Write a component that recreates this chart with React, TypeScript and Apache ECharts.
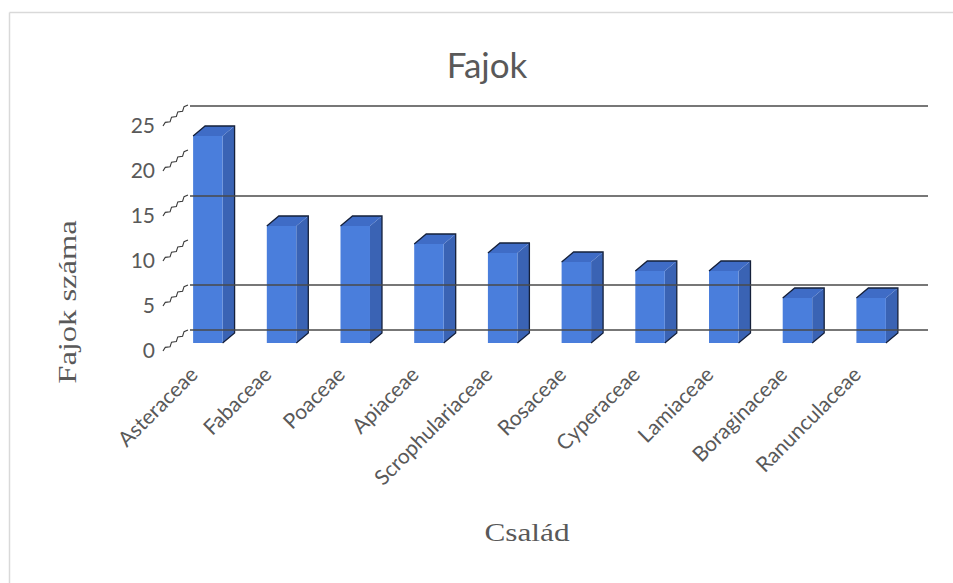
import React, { useEffect, useRef } from "react";
import * as echarts from "echarts";

const categories = [
  "Asteraceae",
  "Fabaceae",
  "Poaceae",
  "Apiaceae",
  "Scrophulariaceae",
  "Rosaceae",
  "Cyperaceae",
  "Lamiaceae",
  "Boraginaceae",
  "Ranunculaceae",
];
const speciesCounts = [23, 13, 13, 11, 10, 9, 8, 8, 5, 5];
const yTicks = [0, 5, 10, 15, 20, 25];
const visibleGridLines = [0, 5, 15, 25];

const TXT = "#595959";
const FRONT = "#4a7edc";
const SIDE = "#3a63b4";
const TOP = "#3f6cc6";
const EDGE = "#15203a";

export default function App() {
  const ref = useRef<HTMLDivElement>(null);
  useEffect(() => {
    if (!ref.current) return;
    const chart = echarts.init(ref.current, undefined, { renderer: "svg" });
    const DX = 12;
    const DY = -10;
    chart.setOption({
      animation: false,
      backgroundColor: "#ffffff",
      title: {
        text: "Fajok",
        left: 482,
        textAlign: "center",
        top: 41,
        textStyle: { fontFamily: "Lato", fontSize: 35, fontWeight: "normal", color: TXT },
      },
      graphic: [
        {
          type: "line",
          shape: { x1: 9.5, y1: 12.5, x2: 953, y2: 12.5 },
          style: { stroke: "#d9d9d9", lineWidth: 1.5 },
          silent: true,
        },
        {
          type: "line",
          shape: { x1: 9.5, y1: 12.5, x2: 9.5, y2: 583 },
          style: { stroke: "#d9d9d9", lineWidth: 1.5 },
          silent: true,
        },
        {
          type: "text",
          x: 67,
          y: 302,
          rotation: Math.PI / 2,
          scaleX: 1.3,
          style: {
            text: "Fajok száma",
            fontFamily: "Liberation Serif",
            fontSize: 25,
            fill: TXT,
            align: "center",
            verticalAlign: "middle",
          },
        },
        {
          type: "text",
          x: 527,
          y: 533,
          scaleX: 1.25,
          style: {
            text: "Család",
            fontFamily: "Liberation Serif",
            fontSize: 25,
            fill: TXT,
            align: "center",
            verticalAlign: "middle",
          },
        },
      ],
      grid: [
        // main (front plane of bars)
        { left: 171, right: 45, top: 118, bottom: 240 },
        // back wall gridlines
        { left: 190, right: 25, top: 106, bottom: 253 },
        // y labels
        { left: 163, width: 25, top: 124, bottom: 234 },
      ],
      xAxis: [
        {
          gridIndex: 0,
          type: "category",
          data: categories,
          axisLine: { show: false },
          axisTick: { show: false },
          axisLabel: {
            rotate: 45,
            margin: 12,
            padding: [0, 21, 0, 0],
            fontFamily: "Lato",
            fontSize: 21,
            color: TXT,
            interval: 0,
          },
        },
        { gridIndex: 1, type: "value", min: 0, max: 1, show: false },
        { gridIndex: 2, type: "value", min: 0, max: 1, show: false },
      ],
      yAxis: [
        { gridIndex: 0, type: "value", min: 0, max: 25, interval: 5, show: false },
        { gridIndex: 1, type: "value", min: 0, max: 25, interval: 5, show: false },
        {
          gridIndex: 2,
          type: "value",
          min: 0,
          max: 25,
          interval: 5,
          axisLine: { show: false },
          axisTick: { show: false },
          splitLine: { show: false },
          axisLabel: { margin: 8, fontFamily: "Lato", fontSize: 21, color: TXT },
        },
      ],
      series: [
        {
          type: "line",
          xAxisIndex: 1,
          yAxisIndex: 1,
          data: [],
          z: 1,
          markLine: {
            silent: true,
            symbol: "none",
            label: { show: false },
            lineStyle: { color: "#4a4a4a", width: 1.5, type: "solid" },
            data: visibleGridLines.map((v) => ({ yAxis: v })),
          },
        },
        {
          type: "custom",
          xAxisIndex: 2,
          yAxisIndex: 2,
          z: 2,
          data: yTicks.map((v) => [0, v]),
          renderItem: (_params: any, api: any) => {
            const p = api.coord([0, api.value(1)]);
            const sx = p[0];
            const sy = p[1] + 2;
            const ex = sx + 25;
            const ey = sy - 21;
            const n = 8;
            const len = Math.hypot(ex - sx, ey - sy);
            const nx = -(ey - sy) / len;
            const ny = (ex - sx) / len;
            const pts: number[][] = [];
            for (let i = 0; i <= n; i++) {
              const t = i / n;
              const a = i === 0 || i === n ? 0 : i % 2 === 0 ? 1.3 : -1.3;
              pts.push([sx + (ex - sx) * t + nx * a, sy + (ey - sy) * t + ny * a]);
            }
            return {
              type: "polyline",
              shape: { points: pts },
              style: { stroke: "#3a3a3a", lineWidth: 1.1, fill: "none" },
            };
          },
        },
        {
          type: "custom",
          xAxisIndex: 0,
          yAxisIndex: 0,
          z: 3,
          data: speciesCounts.map((v, i) => [i, v]),
          renderItem: (_params: any, api: any) => {
            const top = api.coord([api.value(0), api.value(1)]);
            const base = api.coord([api.value(0), 0]);
            const w = api.size([1, 0])[0] * 0.4;
            const x0 = top[0] - w / 2;
            const x1 = top[0] + w / 2;
            const yT = top[1];
            const yB = base[1];
            return {
              type: "group",
              children: [
                {
                  type: "polygon",
                  shape: {
                    points: [
                      [x1, yT],
                      [x1 + DX, yT + DY],
                      [x1 + DX, yB + DY],
                      [x1, yB],
                    ],
                  },
                  style: { fill: SIDE },
                },
                {
                  type: "polygon",
                  shape: {
                    points: [
                      [x0, yT],
                      [x0 + DX, yT + DY],
                      [x1 + DX, yT + DY],
                      [x1, yT],
                    ],
                  },
                  style: { fill: TOP },
                },
                {
                  type: "rect",
                  shape: { x: x0, y: yT, width: w, height: yB - yT },
                  style: { fill: FRONT },
                },
                {
                  type: "polyline",
                  shape: {
                    points: [
                      [x0, yT],
                      [x0 + DX, yT + DY],
                      [x1 + DX, yT + DY],
                      [x1 + DX, yB + DY],
                      [x1, yB],
                    ],
                  },
                  style: { stroke: EDGE, lineWidth: 1.3, fill: "none" },
                },
              ],
            };
          },
        },
      ],
    });
    return () => chart.dispose();
  }, []);
  return (
    <div
      ref={ref}
      style={{ position: "absolute", left: 0, top: 0, width: 953, height: 583 }}
    />
  );
}
